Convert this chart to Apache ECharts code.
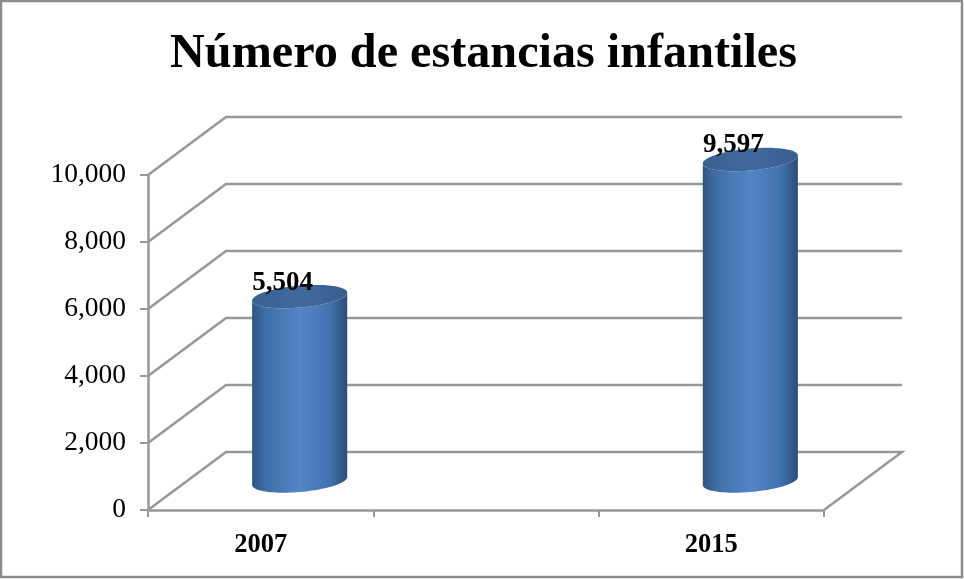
<!DOCTYPE html>
<html>
<head>
<meta charset="utf-8">
<style>html,body{margin:0;padding:0;background:#fff}#c{width:964px;height:579px}</style>
<script src="https://cdn.jsdelivr.net/npm/echarts@6/dist/echarts.min.js"></script>
</head>
<body>
<div id="c"></div>
<script>
const titleText = 'Número de estancias infantiles';
const categories = ['2007', '', '2015'];
const values = [5504, null, 9597];
const yTicks = [0, 2000, 4000, 6000, 8000, 10000];

const FONT = '"Liberation Serif","Times New Roman",serif';
const GRID_COLOR = '#989898';
const DEPTH_X = 78, DEPTH_Y = -58;

const chart = echarts.init(document.getElementById('c'), null, {renderer: 'canvas'});

function ellipsePoints(cx, cy, a, b, shear, from, to, n) {
  const pts = [];
  for (let i = 0; i <= n; i++) {
    const t = from + (to - from) * i / n;
    pts.push([cx + a * Math.cos(t), cy + b * Math.sin(t) - shear * Math.cos(t)]);
  }
  return pts;
}

function renderWall(params, api) {
  const left = params.coordSys.x, right = params.coordSys.x + params.coordSys.width;
  const y = api.coord([0, api.value(0)])[1];
  const pts = [[left, y], [left + DEPTH_X, y + DEPTH_Y], [right + DEPTH_X, y + DEPTH_Y]];
  if (api.value(0) === 0) pts.push([right, y]);
  return {
    type: 'polyline',
    shape: {points: pts},
    style: {stroke: GRID_COLOR, lineWidth: 2.5, fill: null},
    silent: true
  };
}

function renderCylinder(params, api) {
  const idx = api.value(0), val = api.value(1);
  const top = api.coord([idx, val]);
  const base = api.coord([idx, 0]);
  const band = api.size([1, 0])[0];
  const a = band * 0.211, b = 11, shear = 4;
  const cx = top[0] + DEPTH_X / 2;
  const topY = top[1] + DEPTH_Y / 2;
  const baseY = base[1] + DEPTH_Y / 2;
  const bottomArc = ellipsePoints(cx, baseY, a, b, shear, Math.PI, 0, 48);
  const topArc = ellipsePoints(cx, topY, a, b, shear, 0, Math.PI, 48);
  const body = bottomArc.concat(topArc);
  const cap = ellipsePoints(cx, topY, a, b, shear, 0, Math.PI * 2, 96);
  const sideFill = new echarts.graphic.LinearGradient(0, 0, 1, 0, [
    {offset: 0, color: '#2f5583'},
    {offset: 0.14, color: '#3f6da6'},
    {offset: 0.5, color: '#5386c9'},
    {offset: 0.82, color: '#4272ad'},
    {offset: 1, color: '#2b4d78'}
  ]);
  const capFill = new echarts.graphic.LinearGradient(0, 0, 1, 0, [
    {offset: 0, color: '#38608f'},
    {offset: 0.5, color: '#41699c'},
    {offset: 1, color: '#385e8d'}
  ]);
  return {
    type: 'group',
    children: [
      {type: 'polygon', shape: {points: body}, style: {fill: sideFill}},
      {type: 'polygon', shape: {points: cap}, style: {fill: capFill}},
      {
        type: 'text',
        style: {
          text: val.toLocaleString('en-US'),
          x: cx - 17, y: topY - 14,
          align: 'center', verticalAlign: 'middle',
          font: 'bold 27px ' + FONT, fill: '#000'
        }
      }
    ]
  };
}

chart.setOption({
  animation: false,
  backgroundColor: '#fff',
  title: {
    text: titleText,
    left: 478.5, top: 26, textAlign: 'center',
    textStyle: {fontFamily: FONT, fontWeight: 'bold', fontSize: 48.2, color: '#000'}
  },
  graphic: [{
    type: 'rect',
    shape: {x: 1, y: 1, width: 961, height: 576},
    style: {fill: 'none', stroke: '#8c8c8c', lineWidth: 2.5},
    silent: true, z: -1
  }],
  grid: {left: 148, top: 175, width: 676, height: 335},
  xAxis: {
    type: 'category',
    data: categories,
    boundaryGap: true,
    axisLine: {lineStyle: {color: GRID_COLOR, width: 2.5}},
    axisTick: {show: true, alignWithLabel: false, length: 7, interval: 0, lineStyle: {color: GRID_COLOR, width: 2}},
    axisLabel: {interval: 0, margin: 22, fontFamily: FONT, fontWeight: 'bold', fontSize: 26.5, color: '#000'}
  },
  yAxis: {
    type: 'value',
    min: 0, max: 10000, interval: 2000,
    splitLine: {show: false},
    axisLine: {show: true, lineStyle: {color: GRID_COLOR, width: 2.5}},
    axisTick: {show: true, length: 8, lineStyle: {color: GRID_COLOR, width: 2}},
    axisLabel: {
      margin: 22, fontFamily: FONT, fontSize: 27.5, color: '#000',
      padding: [3, 0, 0, 0],
      formatter: v => v.toLocaleString('en-US')
    }
  },
  series: [
    {
      type: 'custom', name: 'grid', coordinateSystem: 'cartesian2d', clip: false, z: 1, silent: true,
      data: yTicks.map(v => [v]),
      encode: {y: 0},
      renderItem: renderWall
    },
    {
      type: 'custom', name: 'Número de estancias infantiles', coordinateSystem: 'cartesian2d', clip: false, z: 3,
      data: values.map((v, i) => [i, v]).filter(d => d[1] !== null),
      encode: {x: 0, y: 1},
      renderItem: renderCylinder
    }
  ]
});
</script>
</body>
</html>
